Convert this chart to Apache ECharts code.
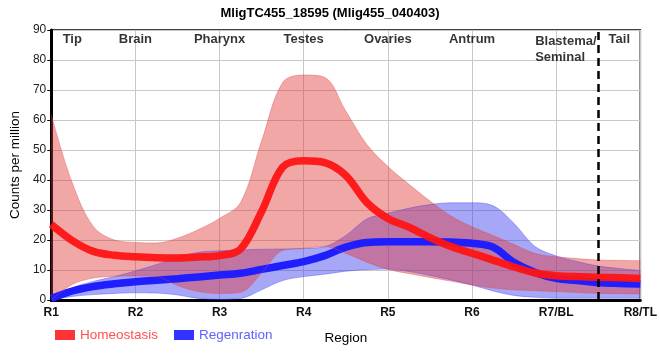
<!DOCTYPE html>
<html><head><meta charset="utf-8">
<script src="https://cdn.jsdelivr.net/npm/echarts@6/dist/echarts.min.js"></script>
<style>html,body{margin:0;padding:0;background:#fff}#c{width:660px;height:360px}</style>
</head><body><div id="c"></div>
<script>
var titleText = 'MligTC455_18595 (Mlig455_040403)';
var tickLabels = ['R1','R2','R3','R4','R5','R6','R7/BL','R8/TL'];
var regionNames = ['Tip','Brain','Pharynx','Testes','Ovaries','Antrum','Blastema/\nSeminal','Tail'];
var regionPos = [1.2, 1.97, 2.98, 3.96, 4.93, 5.98, 6.64, 7.73];
var xs = [1,1.25,1.5,1.75,2,2.25,2.5,2.75,3,3.25,3.5,3.75,4,4.25,4.5,4.75,5,5.25,5.5,5.75,6,6.25,6.5,6.75,7,7.25,7.5,7.75,8];
var homeoMean = [25.2,19.8,16.2,14.9,14.4,14.1,14.0,14.3,14.8,17.0,29.5,44.3,46.4,45.8,41.5,32.5,27.2,24.3,20.8,17.8,15.6,13.3,11.0,9.0,8.1,7.8,7.6,7.4,7.2];
var homeoHi = [61.7,39,24.5,20.0,19.2,19.0,20.6,23.5,27.2,32.5,53,72.5,75,74.2,63,51.8,44.5,38.6,33,28,24.4,21.5,18.5,15.5,14.4,13.8,13.3,13.2,13.1];
var homeoLo = [0,5.2,7.3,7.9,8.0,7.8,4.8,2.8,2.2,2.6,9,16.5,17.2,17.8,15.6,12.6,10.2,8.8,7.5,6.3,5.0,4.0,3.4,3.1,2.8,2.5,2.2,2.1,2.0];
var regenMean = [0.5,3.0,4.5,5.4,6.1,6.6,7.1,7.7,8.3,8.9,10.2,11.5,12.8,14.8,17.6,19.2,19.4,19.4,19.4,19.3,18.9,17.6,12.5,9.2,7.2,6.5,5.8,5.5,5.3];
var regenHi = [0,4,6.2,7.8,9.7,11.8,14.2,15.9,16.4,16.7,16.9,17.0,17.2,17.8,21.5,27,28.9,30.6,31.8,32.4,32.4,31.4,25.5,17.8,14.7,12.8,11.3,10.5,9.8];
var regenLo = [0,1.2,1.8,2.2,2.4,2.3,1.7,0.5,0.2,0.5,3.4,6.5,7.8,8.6,9.6,10.1,10.3,9.5,8.2,6.7,5.0,3.0,1.5,0.9,0.6,0.6,0.6,0.6,0.6];
var dividerX = 7.5;

var step = xs[1] - xs[0];
function toIdx(x){ return (x - xs[0]) / step; }
function diff(hi, lo){ return hi.map(function(h,i){ return Math.max(0, h - lo[i]); }); }
var cats = xs.map(String);

var FONT = 'Liberation Sans, Arial, sans-serif';
var chart = echarts.init(document.getElementById('c'), null, {renderer:'canvas'});
var redBand = 'rgba(225,55,55,0.44)', blueBand = 'rgba(55,55,240,0.44)';
var sm = 0.35;
var labelEvery = Math.round(1 / step) - 1;
var option = {
  animation: false,
  title: {text: titleText, left: 'center', top: 2, textStyle: {fontFamily: FONT, fontSize: 13, fontWeight: 'bold', color: '#000'}},
  grid: {left: 50, right: 10, top: 30, bottom: 60, show: true, borderColor: '#000', borderWidth: 1.5, backgroundColor: 'transparent'},
  legend: {
    left: 50, top: 323, icon: 'rect', itemWidth: 20, itemHeight: 10, itemGap: 16, itemStyle: {borderWidth: 0},
    textStyle: {fontFamily: FONT, fontSize: 13.5},
    data: [
      {name: 'Homeostasis', itemStyle: {color: '#ff3333'}, textStyle: {color: '#ff5050'}},
      {name: 'Regenration', itemStyle: {color: '#3333ff'}, textStyle: {color: '#6060ff'}}
    ]
  },
  xAxis: {
    type: 'category', data: cats, boundaryGap: false,
    name: 'Region', nameLocation: 'middle', nameGap: 31,
    nameTextStyle: {fontFamily: FONT, fontSize: 13.5, color: '#000'},
    axisLine: {show: true, lineStyle: {color: '#000', width: 3}},
    axisTick: {show: false},
    axisLabel: {interval: labelEvery, fontFamily: FONT, fontSize: 12, fontWeight: 'bold', color: '#111', margin: 7,
      formatter: function(v){ var k = Math.round(Number(v)) ; return tickLabels[k-1] || ''; }},
    splitLine: {show: true, interval: labelEvery, lineStyle: {color: '#c8c8c8', width: 1}}
  },
  yAxis: {
    type: 'value', min: 0, max: 90, interval: 10,
    name: 'Counts per million', nameLocation: 'middle', nameGap: 26,
    nameTextStyle: {fontFamily: FONT, fontSize: 13.5, color: '#000'},
    axisLine: {show: true, lineStyle: {color: '#000', width: 3}},
    axisTick: {show: true, length: 4, lineStyle: {color: '#000'}},
    axisLabel: {fontFamily: FONT, fontSize: 12, color: '#222', margin: 5},
    splitLine: {show: true, lineStyle: {color: '#c8c8c8', width: 1}}
  },
  series: [
    {name: 'rLo', type: 'line', stack: 'r', data: regenLo, symbol: 'none', smooth: sm,
      lineStyle: {width: 0.8, color: 'rgba(70,70,240,0.5)'}, silent: true},
    {name: 'rBand', type: 'line', stack: 'r', data: diff(regenHi, regenLo), symbol: 'none', smooth: sm,
      lineStyle: {width: 0.8, color: 'rgba(70,70,240,0.5)'}, areaStyle: {color: blueBand, opacity: 1}, silent: true},
    {name: 'Regenration', type: 'line', data: regenMean, symbol: 'none', smooth: sm,
      itemStyle: {color: '#3333ff'}, lineStyle: {width: 7.5, color: '#1e1eff'}},
    {name: 'hLo', type: 'line', stack: 'h', data: homeoLo, symbol: 'none', smooth: sm,
      lineStyle: {width: 0.8, color: 'rgba(225,70,70,0.5)'}, silent: true},
    {name: 'hBand', type: 'line', stack: 'h', data: diff(homeoHi, homeoLo), symbol: 'none', smooth: sm,
      lineStyle: {width: 0.8, color: 'rgba(225,70,70,0.5)'}, areaStyle: {color: redBand, opacity: 1}, silent: true},
    {name: 'Homeostasis', type: 'line', data: homeoMean, symbol: 'none', smooth: sm,
      itemStyle: {color: '#ff3333'}, lineStyle: {width: 7.5, color: 'rgba(255,20,20,0.95)'},
      markLine: {silent: true, symbol: 'none', label: {show: false},
        lineStyle: {color: '#000', type: [8, 5], width: 2.5},
        data: [{xAxis: toIdx(dividerX)}]}},
    {name: 'regions', type: 'scatter', symbolSize: 0, silent: true, z: 5,
      data: regionNames.map(function(n, i){
        var isTwo = n.indexOf('\n') >= 0;
        return {value: [toIdx(regionPos[i]), isTwo ? 89 : 86.7], name: n,
          label: {show: true, position: 'inside', formatter: n,
            align: isTwo ? 'left' : 'center', verticalAlign: isTwo ? 'top' : 'middle',
            fontFamily: FONT, fontSize: 13, fontWeight: 'bold', color: '#000', lineHeight: 16}};
      })}
  ]
};
chart.setOption(option);
</script></body></html>
